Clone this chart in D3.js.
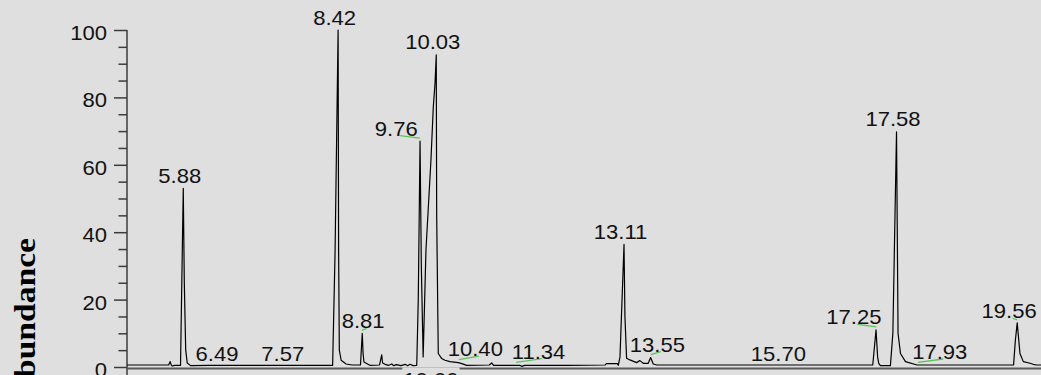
<!DOCTYPE html>
<html>
<head>
<meta charset="utf-8">
<script src="https://cdn.jsdelivr.net/npm/d3@7"></script>
<style>
html,body{margin:0;padding:0;background:#dfdfdf;overflow:hidden}
svg{display:block}
</style>
</head>
<body>
<svg id="c" width="1041" height="375"></svg>
<script>
// ---- data ----
const traceTimes = [4.957,5.40,5.64,5.665,5.685,5.70,5.74,5.835,5.88,5.897,5.92,5.945,6.0,6.3,6.7,7.2,7.8,
  8.33,8.37,8.42,8.428,8.44,8.47,8.55,8.65,8.787,8.816,8.83,8.844,8.94,
  9.10,9.135,9.15,9.19,9.25,9.30,9.33,9.38,9.45,9.52,9.56,9.60,9.65,9.71,
  9.735,9.764,9.785,9.815,9.861,9.943,9.981,10.009,10.03,10.037,10.063,10.12,10.173,10.255,10.39,10.45,10.53,
  10.90,10.94,10.97,11.40,11.43,11.48,12.20,12.80,12.82,13.0,13.016,13.044,13.11,13.125,13.152,13.206,
  13.316,13.37,13.426,13.507,13.547,13.589,13.646,14.50,15.50,16.50,
  17.19,17.244,17.27,17.288,17.316,17.48,17.52,17.58,17.605,17.645,17.727,17.917,18.8,
  19.50,19.53,19.56,19.605,19.66,19.77,19.82,19.879,19.95];
const traceValues = [0.6,0.6,0.6,1.6,0.5,0.3,0.5,0.5,53,25,5,1.2,0.4,0.5,0.5,0.5,0.5,
  0.5,34,100,35,5,2,0.9,0.6,0.6,10,4,1.5,0.5,
  0.6,3.6,1.2,0.8,0.5,0.9,0.4,0.7,0.4,0.8,0.4,0.8,0.4,0.5,
  20,67,30,3,34.7,61.4,77,84,92.6,45,4,2.5,2,1.6,1.3,1.0,0.5,
  0.6,1.2,0.5,0.5,0.2,0.5,0.5,0.6,1.0,1.0,0.5,3,36.4,15,2.6,2.1,
  1.3,1.9,1.1,1.1,2.8,0.9,0.6,0.6,0.6,0.6,
  0.6,11,3,1.1,0.4,0.4,10,69.8,10,4,1.6,0.6,0.6,
  0.6,8,13.1,4,1.6,1.1,0.8,0.6,0.6];

const peakLabels  = ["5.88","6.49","7.57","8.42","8.81","9.76","10.03","10.40","11.34","13.11","13.55","15.70","17.25","17.58","17.93","19.56","10.00"];
const peakTimes   = [5.88,6.49,7.57,8.42,8.81,9.76,10.03,10.40,11.34,13.11,13.55,15.70,17.25,17.58,17.93,19.56,10.00];
const peakHeights = [53,0.2,0.2,100,10,67,92.6,1.3,0.5,36.4,2.8,0.2,11,69.8,0.5,13.1,0];

const yTicks = [0,20,40,60,80,100];
const yMinorTicks = [5,10,15,25,30,35,45,50,55,65,70,75,85,90,95];
const xDomain = [4.957,19.95];
const yTitle = "Relative Abundance";

// ---- layout (pixels, not data) ----
const labelLayout = {
  "8.81":{dx:4.8,dy:-5}, "9.76":{dx:-20,dy:-5.5}, "10.40":{dx:20,dy:-6.6},
  "11.34":{dx:26,dy:-6.6}, "13.55":{dx:10,dy:-6}, "17.25":{dx:-19,dy:-5.6},
  "17.93":{dx:25.4,dy:-6.3}, "19.56":{dx:-4.6,dy:-4.6}, "10.00":{dx:0,dy:20,box:true}
};
const defaultLayout = {dx:0,dy:-5.5};

const W = 1041, H = 375, BG = "#dfdfdf";
const FONT = "'Liberation Sans', Arial, Helvetica, sans-serif";
const FS = 21, SX = 1.05;

const svg = d3.select("#c");
svg.append("rect").attr("width",W).attr("height",H).attr("fill",BG);

const x = d3.scaleLinear().domain(xDomain).range([127,1041]);
const y = d3.scaleLinear().domain([0,100]).range([367,30]);

// x axis line
const xAxis = d3.axisBottom(x).tickValues([]).tickSizeOuter(0);
const gx = svg.append("g").attr("transform",`translate(0,${y(0)+1})`).call(xAxis);
gx.select(".domain").attr("stroke","#5a5a5a").attr("stroke-width",2);

// y axis
const gy = svg.append("g").attr("transform",`translate(${x(xDomain[0])},0)`);
gy.append("line").attr("x1",0).attr("x2",0).attr("y1",y(100)).attr("y2",H)
  .attr("stroke","#3c3c3c").attr("stroke-width",1.5);
const gMinor = gy.append("g").call(d3.axisLeft(y).tickValues(yMinorTicks).tickSize(8.5).tickFormat(""));
gMinor.select(".domain").remove();
gMinor.selectAll("line").attr("stroke","#3c3c3c").attr("stroke-width",1.5);
const gMajor = gy.append("g").call(d3.axisLeft(y).tickValues(yTicks).tickSize(13).tickPadding(7).tickFormat(d3.format("d")));
gMajor.select(".domain").remove();
gMajor.selectAll("line").attr("stroke","#3c3c3c").attr("stroke-width",1.5);
gMajor.selectAll("text")
  .attr("font-family",FONT).attr("font-size",FS).attr("fill","#111")
  .attr("dy","0.45em")
  .attr("x",-20/SX)
  .attr("transform",`scale(${SX},1)`);

// trace
const pts = traceTimes.map((t,i)=>[t,traceValues[i]]);
svg.append("path").datum(pts)
  .attr("fill","none").attr("stroke","#000").attr("stroke-width",1.2).attr("stroke-linejoin","round")
  .attr("d", d3.line().x(d=>x(d[0])).y(d=>y(d[1])));

// labels
const gl = svg.append("g");
peakLabels.forEach((lab,i)=>{
  const L = labelLayout[lab] || defaultLayout;
  const px = x(peakTimes[i]), py = y(peakHeights[i]);
  const ax = px + L.dx, ay = py + L.dy;
  if (Math.abs(L.dx) > 2) {
    gl.append("line").attr("x1",px).attr("y1",py-3).attr("x2",ax).attr("y2",ay)
      .attr("stroke","#5cc35c").attr("stroke-width",1.3);
  }
  const g = gl.append("g").attr("transform",`translate(${ax-3.5},${ay}) scale(${SX},1)`);
  const t = g.append("text").attr("text-anchor","middle")
    .attr("font-family",FONT).attr("font-size",FS).attr("fill","#111").text(lab);
  if (L.box) {
    const b = t.node().getBBox();
    g.insert("rect","text").attr("x",b.x-1).attr("y",b.y-1).attr("width",b.width+2).attr("height",b.height+2).attr("fill",BG);
  }
});

// y title
svg.append("text")
  .attr("transform","translate(35,238) rotate(-90) scale(1.12,1)")
  .attr("text-anchor","end")
  .attr("font-family","'Liberation Serif','Times New Roman',Times,serif")
  .attr("font-weight","bold").attr("font-size",30).attr("fill","#000")
  .text(yTitle);
</script>
</body>
</html>
